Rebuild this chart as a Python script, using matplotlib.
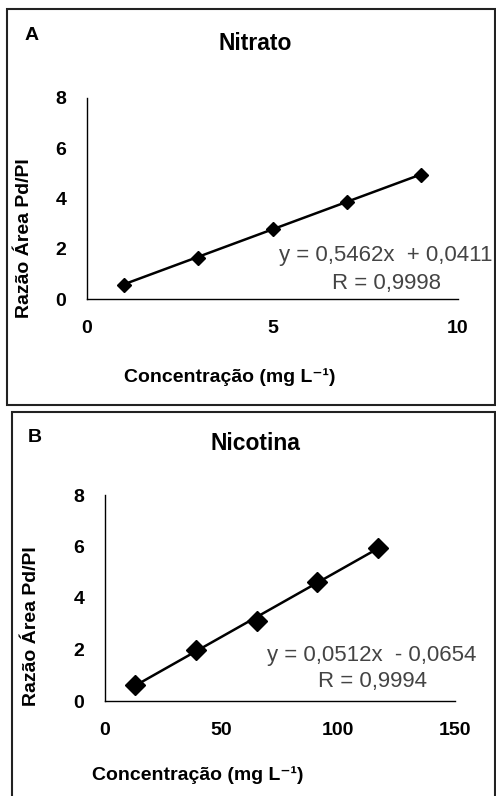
import matplotlib
matplotlib.use("Agg")
import matplotlib.pyplot as plt
from matplotlib.patches import Rectangle

plt.rcParams['font.family'] = ['Liberation Sans', 'DejaVu Sans']

# calibration data
nitrato_x = [1, 3, 5, 7, 9]
nitrato_y = [0.55, 1.63, 2.78, 3.85, 4.95]
nitrato_slope, nitrato_icpt, nitrato_r = 0.5462, 0.0411, 0.9998

nicotina_x = [13, 39, 65, 91, 117]
nicotina_y = [0.62, 1.98, 3.11, 4.63, 5.93]
nicotina_slope, nicotina_icpt, nicotina_r = 0.0512, -0.0654, 0.9994

W, H = 496, 796
fig = plt.figure(figsize=(W / 100, H / 100), dpi=100)


def px_axes(left, top, right, bottom):
    return fig.add_axes([left / W, 1 - bottom / H, (right - left) / W, (bottom - top) / H])


def fmt(v, n=4):
    return f"{abs(v):.{n}f}".replace('.', ',')


def panel(ax, xs, ys, slope, icpt, r, xmax, xticks, msize, eq_pos, r_pos):
    ax.set_xlim(0, xmax)
    ax.set_ylim(0, 8)
    ax.set_xticks(xticks)
    ax.set_yticks([0, 2, 4, 6, 8])
    for s in ['top', 'right']:
        ax.spines[s].set_visible(False)
    for s in ['left', 'bottom']:
        ax.spines[s].set_linewidth(1.0)
        ax.spines[s].set_color('black')
    ax.tick_params(length=0, labelsize=14, pad=15)
    for lab in ax.get_xticklabels() + ax.get_yticklabels():
        lab.set_fontweight('bold')

    # trendline from the fitted equation
    x0, x1 = xs[0], xs[-1]
    ax.plot([x0, x1], [slope * x0 + icpt, slope * x1 + icpt], color='black', lw=1.8, zorder=2)
    ax.plot(xs, ys, linestyle='none', marker='D', color='black', markersize=msize, zorder=3)

    sign = '+' if icpt >= 0 else '-'
    ax.text(*eq_pos, f"y = {fmt(slope)}x  {sign} {fmt(icpt)}", transform=fig.transFigure,
            ha='center', va='center', fontsize=16, color='#444444')
    ax.text(*r_pos, f"R = {fmt(r)}", transform=fig.transFigure,
            ha='center', va='center', fontsize=16, color='#444444')
    return ax


xlabel = 'Concentração (mg L⁻¹)'
ylabel = 'Razão Área Pd/PI'

# panel A
axA = px_axes(87, 98, 458, 299)
panel(axA, nitrato_x, nitrato_y, nitrato_slope, nitrato_icpt, nitrato_r, 10, [0, 5, 10], 7.5,
      (386 / W, 1 - 255 / H), (387 / W, 1 - 284 / H))
fig.text(255 / W, 1 - 43 / H, 'Nitrato', ha='center', va='center', fontsize=16.5, fontweight='bold')
fig.text(32 / W, 1 - 36 / H, 'A', ha='center', va='center', fontsize=14, fontweight='bold')
fig.text(25 / W, 1 - 238 / H, ylabel, rotation=90, ha='center', va='center',
         fontsize=14, fontweight='bold')
fig.text(230 / W, 1 - 377 / H, xlabel, ha='center', va='center',
         fontsize=14, fontweight='bold')

# panel B
axB = px_axes(105, 495, 455, 701)
panel(axB, nicotina_x, nicotina_y, nicotina_slope, nicotina_icpt, nicotina_r, 150, [0, 50, 100, 150], 10,
      (372 / W, 1 - 655 / H), (372 / W, 1 - 682 / H))
fig.text(255 / W, 1 - 443 / H, 'Nicotina', ha='center', va='center', fontsize=16.5, fontweight='bold')
fig.text(35 / W, 1 - 437 / H, 'B', ha='center', va='center', fontsize=14, fontweight='bold')
fig.text(32 / W, 1 - 626 / H, ylabel, rotation=90, ha='center', va='center',
         fontsize=14, fontweight='bold')
fig.text(198 / W, 1 - 775 / H, xlabel, ha='center', va='center',
         fontsize=14, fontweight='bold')

# frames around each panel
fig.patches.append(Rectangle((7 / W, 1 - 405 / H), (495 - 7) / W, (405 - 9) / H,
                             transform=fig.transFigure, fill=False, edgecolor='#222222', lw=1.5))
fig.patches.append(Rectangle((12 / W, 1 - 800 / H), (495 - 12) / W, (800 - 412) / H,
                             transform=fig.transFigure, fill=False, edgecolor='#222222', lw=1.5,
                             clip_on=False))

fig.savefig('out.png', dpi=100)
